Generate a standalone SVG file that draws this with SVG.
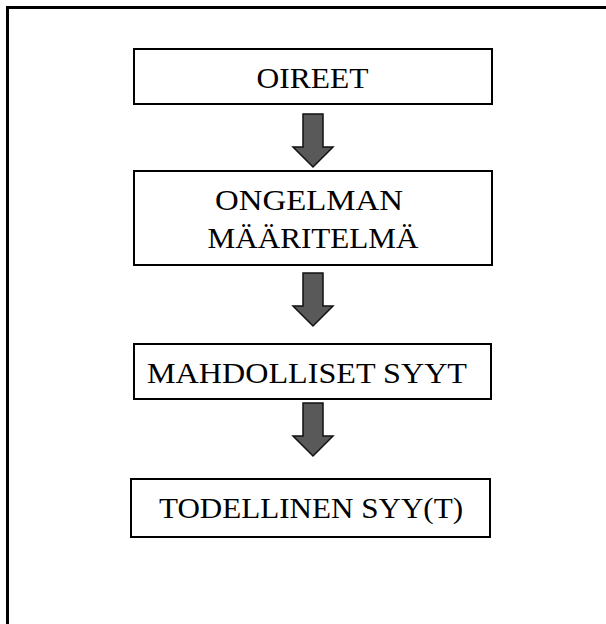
<svg xmlns="http://www.w3.org/2000/svg" width="606" height="624" viewBox="0 0 606 624">
<style>
.box{fill:#fff;stroke:#000;stroke-width:2}
.lbl{font-family:"Liberation Serif","Times New Roman",serif;font-size:29px;fill:#000;text-anchor:middle}
.arr{fill:#595959;stroke:#111;stroke-width:1.5;stroke-linejoin:miter}
</style>
<rect x="0" y="0" width="606" height="624" fill="#fff"/>
<rect x="7.5" y="7.5" width="620" height="640" fill="none" stroke="#000" stroke-width="3"/>
<g id="connectors">
<path class="arr" d="M303,114 H323 V147 H333 L313,167 L293,147 H303 Z"/>
<path class="arr" d="M303,273 H323 V306 H333 L313,326 L293,306 H303 Z"/>
<path class="arr" d="M303,403 H323 V436 H333 L313,456 L293,436 H303 Z"/>
</g>
<g id="oireet">
<rect class="box" x="134" y="49" width="358" height="55"/>
<text class="lbl" x="312.5" y="88" textLength="112" lengthAdjust="spacingAndGlyphs">OIREET</text>
</g>
<g id="ongelman">
<rect class="box" x="134" y="171" width="358" height="94"/>
<text class="lbl" x="309" y="210" textLength="188" lengthAdjust="spacingAndGlyphs">ONGELMAN</text>
<text class="lbl" x="313" y="248" textLength="211" lengthAdjust="spacingAndGlyphs">MÄÄRITELMÄ</text>
</g>
<g id="mahdolliset">
<rect class="box" x="134" y="344" width="357" height="55"/>
<text class="lbl" x="307" y="383" textLength="320" lengthAdjust="spacingAndGlyphs">MAHDOLLISET SYYT</text>
</g>
<g id="todellinen">
<rect class="box" x="131" y="479" width="359" height="58"/>
<text class="lbl" x="311" y="518" textLength="304" lengthAdjust="spacingAndGlyphs">TODELLINEN SYY(T)</text>
</g>
</svg>
